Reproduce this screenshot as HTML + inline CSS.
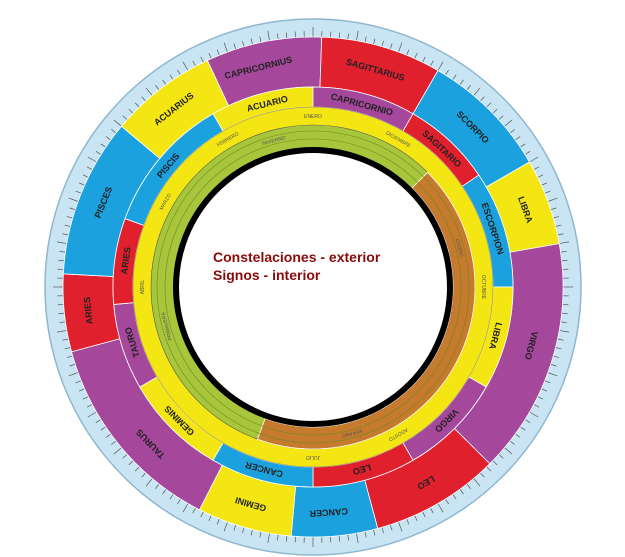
<!DOCTYPE html>
<html><head><meta charset="utf-8"><style>
html,body{margin:0;padding:0;background:#fff;width:625px;height:557px;overflow:hidden}
svg{display:block}
.t{font-family:"Liberation Sans",sans-serif;font-weight:bold;font-size:9px;fill:#222;text-anchor:middle}
.s{font-family:"Liberation Sans",sans-serif;font-size:5px;fill:#555;text-anchor:middle}
.m{font-family:"Liberation Sans",sans-serif;font-weight:bold;font-size:14px;fill:#8b0a0a}
</style></head><body>
<svg id="sv" width="625" height="557" viewBox="0 0 625 557" xmlns="http://www.w3.org/2000/svg">
<g id="bg"></g>
<g id="lab">
<!-- constellations r~226 -->
<text class="t" x="313" y="64" transform="rotate(-14 313 287)">CAPRICORNIUS</text>
<text class="t" x="313" y="64" transform="rotate(16 313 287)">SAGITTARIUS</text>
<text class="t" x="313" y="64" transform="rotate(45 313 287)">SCORPIO</text>
<text class="t" x="313" y="64" transform="rotate(70 313 287)">LIBRA</text>
<text class="t" x="313" y="64" transform="rotate(105 313 287)">VIRGO</text>
<text class="t" x="313" y="64" transform="rotate(150 313 287)">LEO</text>
<text class="t" x="313" y="64" transform="rotate(176 313 287)">CANCER</text>
<text class="t" x="313" y="64" transform="rotate(196 313 287)">GEMINI</text>
<text class="t" x="313" y="64" transform="rotate(226 313 287)">TAURUS</text>
<text class="t" x="313" y="64" transform="rotate(264 313 287)">ARIES</text>
<text class="t" x="313" y="64" transform="rotate(292 313 287)">PISCES</text>
<text class="t" x="313" y="64" transform="rotate(322 313 287)">ACUARIUS</text>
<!-- signs r~190 -->
<text class="t" x="313" y="101" transform="rotate(-14 313 287)">ACUARIO</text>
<text class="t" x="313" y="101" transform="rotate(15 313 287)">CAPRICORNIO</text>
<text class="t" x="313" y="101" transform="rotate(43 313 287)">SAGITARIO</text>
<text class="t" x="313" y="101" transform="rotate(72 313 287)">ESCORPION</text>
<text class="t" x="313" y="101" transform="rotate(105 313 287)">LIBRA</text>
<text class="t" x="313" y="101" transform="rotate(135 313 287)">VIRGO</text>
<text class="t" x="313" y="101" transform="rotate(165 313 287)">LEO</text>
<text class="t" x="313" y="101" transform="rotate(195 313 287)">CANCER</text>
<text class="t" x="313" y="101" transform="rotate(225 313 287)">GEMINIS</text>
<text class="t" x="313" y="101" transform="rotate(253 313 287)">TAURO</text>
<text class="t" x="313" y="101" transform="rotate(278 313 287)">ARIES</text>
<text class="t" x="313" y="101" transform="rotate(310 313 287)">PISCIS</text>
<!-- months -->
<text class="s" x="313" y="118" transform="rotate(0 313 287)">ENERO</text>
<text class="s" x="313" y="118" transform="rotate(-30 313 287)">FEBRERO</text>
<text class="s" x="313" y="118" transform="rotate(30 313 287)">DICIEMBRE</text>
<text class="s" x="313" y="118" transform="rotate(90 313 287)">OCTUBRE</text>
<text class="s" x="313" y="118" transform="rotate(150 313 287)">AGOSTO</text>
<text class="s" x="313" y="118" transform="rotate(180 313 287)">JULIO</text>
<text class="s" x="313" y="118" transform="rotate(-90 313 287)">ABRIL</text>
<text class="s" x="313" y="118" transform="rotate(-60 313 287)">MARZO</text>
<text class="s" x="313" y="137" transform="rotate(-15 313 287)">INVIERNO</text>
<text class="s" x="313" y="137" transform="rotate(165 313 287)">VERANO</text>
<text class="s" x="313" y="137" transform="rotate(75 313 287)">OTOÑO</text>
<text class="s" x="313" y="137" transform="rotate(-105 313 287)">PRIMAVERA</text>
</g>
<text class="m" x="213" y="262">Constelaciones - exterior</text>
<text class="m" x="213" y="280">Signos - interior</text>
</svg>
<script>
var cx=313,cy=287,NS="http://www.w3.org/2000/svg",g=document.getElementById('bg');
function P(r,a){a=a*Math.PI/180;return [cx+r*Math.sin(a),cy-r*Math.cos(a)];}
function sec(r1,r2,a1,a2,f){var p1=P(r2,a1),p2=P(r2,a2),p3=P(r1,a2),p4=P(r1,a1),l=(a2-a1)>180?1:0;
var e=document.createElementNS(NS,'path');e.setAttribute('d','M'+p1+'A'+r2+' '+r2+' 0 '+l+' 1 '+p2+'L'+p3+'A'+r1+' '+r1+' 0 '+l+' 0 '+p4+'Z');
e.setAttribute('fill',f);e.setAttribute('stroke','#fff');e.setAttribute('stroke-width','0.8');g.appendChild(e);}
function circ(r,f,s,w){var e=document.createElementNS(NS,'circle');e.setAttribute('cx',cx);e.setAttribute('cy',cy);e.setAttribute('r',r);e.setAttribute('fill',f);if(s){e.setAttribute('stroke',s);e.setAttribute('stroke-width',w);}g.appendChild(e);}
var Y='#f4e612',M='#a5479b',R='#e0202c',B='#1ba1dd';
circ(268,'#c9e5f4','#8fb7cf',1.5);
for(var i=0;i<360;i+=2){var a=P(250,i),b=P(i%10?256:260,i);var e=document.createElementNS(NS,'line');e.setAttribute('x1',a[0]);e.setAttribute('y1',a[1]);e.setAttribute('x2',b[0]);e.setAttribute('y2',b[1]);e.setAttribute('stroke','#555');e.setAttribute('stroke-width','0.7');g.appendChild(e);}
var cons=[[-25,2,M],[2,30,R],[30,60,B],[60,80,Y],[80,135,M],[135,165,R],[165,185,B],[185,207,Y],[207,255,M],[255,273,R],[273,310,B],[310,335,Y]];
cons.forEach(function(c){sec(200,250,c[0],c[1],c[2]);});
var sig=[[-30,0,Y],[0,30,M],[30,56,R],[56,90,B],[90,120,Y],[120,150,M],[150,180,R],[180,210,B],[210,240,Y],[240,265,M],[265,290,R],[290,330,B]];
sig.forEach(function(c){sec(180,200,c[0],c[1],c[2]);});
circ(180,Y,'#777',0.5);
circ(162,'#a7c63b','#555',0.6);
sec(140,162,45,200,'#c57a2e');
circ(156,'none','#6d8a1e',0.6);circ(148,'none','#6d8a1e',0.6);
circ(137,'#fff','#000',6);
</script>
</body></html>
